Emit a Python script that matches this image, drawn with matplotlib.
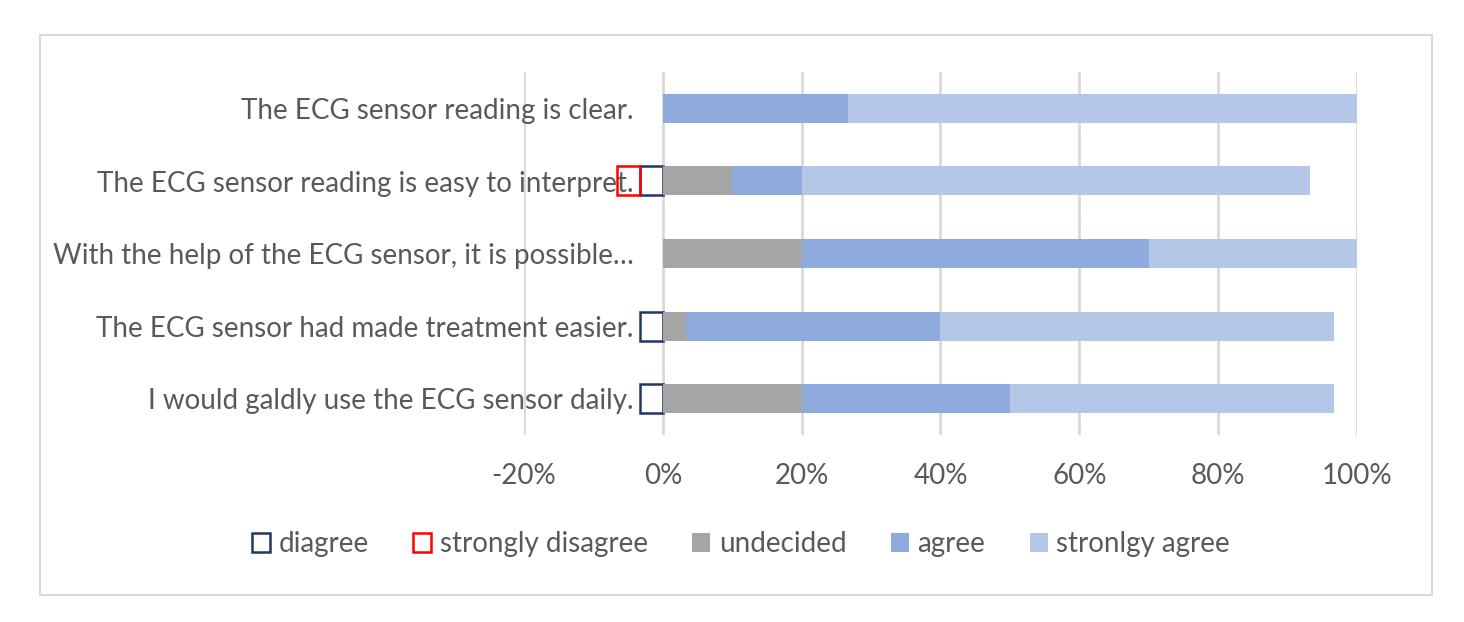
import matplotlib
matplotlib.use("Agg")
import matplotlib.pyplot as plt
from matplotlib.patches import Rectangle, Patch
from matplotlib.ticker import FuncFormatter

categories = [
    "The ECG sensor reading is clear.",
    "The ECG sensor reading is easy to interpret.",
    "With the help of the ECG sensor, it is possible\u2026",
    "The ECG sensor had made treatment easier.",
    "I would galdly use the ECG sensor daily.",
]
disagree = [0, 3.3, 0, 3.3, 3.3]
strongly_disagree = [0, 3.3, 0, 0, 0]
undecided = [0, 10.0, 20.0, 3.3, 20.0]
agree = [26.7, 10.0, 50.0, 36.7, 30.0]
strongly_agree = [73.3, 73.3, 30.0, 56.7, 46.7]
xticks = [-20, 0, 20, 40, 60, 80, 100]

plt.rcParams['font.family'] = ['Lato', 'DejaVu Sans']
text_color = '#595959'
fs = 20

fig = plt.figure(figsize=(14.64, 6.22), dpi=100)
ax = fig.add_axes([524/1464, 1-435/622, (1357-524)/1464, (435-72)/622])

y = list(range(len(categories)))
h = 0.4
c_dis = '#1F3864'
c_sdis = '#FF0000'
c_und = '#A5A5A5'
c_agr = '#8FAADC'
c_sagr = '#B4C7E7'

# negative (hollow) bars, skip zeros
for yi, d, s in zip(y, disagree, strongly_disagree):
    if d > 0:
        ax.barh(yi, -d, height=h, left=0, facecolor='none', edgecolor=c_dis, linewidth=1.8, zorder=3)
    if s > 0:
        ax.barh(yi, -s, height=h, left=-d, facecolor='none', edgecolor=c_sdis, linewidth=1.8, zorder=4)
# positive stacked
left = [0]*5
ax.barh(y, undecided, height=h, left=left, color=c_und, zorder=3)
left = [a+b for a, b in zip(left, undecided)]
ax.barh(y, agree, height=h, left=left, color=c_agr, zorder=3)
left = [a+b for a, b in zip(left, agree)]
ax.barh(y, strongly_agree, height=h, left=left, color=c_sagr, zorder=3)

ax.set_xlim(-20, 100)
ax.set_ylim(len(categories)-0.5, -0.5)
ax.set_xticks(xticks)
ax.xaxis.set_major_formatter(FuncFormatter(lambda v, p: f"{v:.0f}%"))
ax.set_yticks([])
for yi, lab in zip(y, categories):
    ax.annotate(lab, xy=(0, yi), xytext=(-21, -2), textcoords='offset points',
                ha='right', va='center', fontsize=fs, color=text_color, zorder=2)
ax.grid(axis='x', color='#D9D9D9', linewidth=2, zorder=0)
ax.set_axisbelow(True)
for sp in ax.spines.values():
    sp.set_visible(False)
ax.tick_params(axis='x', length=0, colors=text_color, labelsize=fs, pad=20)

handles = [
    Patch(facecolor='none', edgecolor=c_dis, linewidth=1.8, label='diagree'),
    Patch(facecolor='none', edgecolor=c_sdis, linewidth=1.8, label='strongly disagree'),
    Patch(facecolor=c_und, edgecolor='none', label='undecided'),
    Patch(facecolor=c_agr, edgecolor='none', label='agree'),
    Patch(facecolor=c_sagr, edgecolor='none', label='stronlgy agree'),
]
leg = fig.legend(handles=handles, loc='center', bbox_to_anchor=(741/1464, 1-544/622), ncol=5,
                 frameon=False, fontsize=fs, handlelength=0.65, handleheight=0.65,
                 handletextpad=0.3, columnspacing=1.6)
for t in leg.get_texts():
    t.set_color(text_color)

fig.patches.append(Rectangle((40/1464, 1-595/622), (1432-40)/1464, (595-35)/622,
                             transform=fig.transFigure, fill=False, edgecolor='#D9D9D9', linewidth=1.5))

fig.savefig('out.png', dpi=100)
